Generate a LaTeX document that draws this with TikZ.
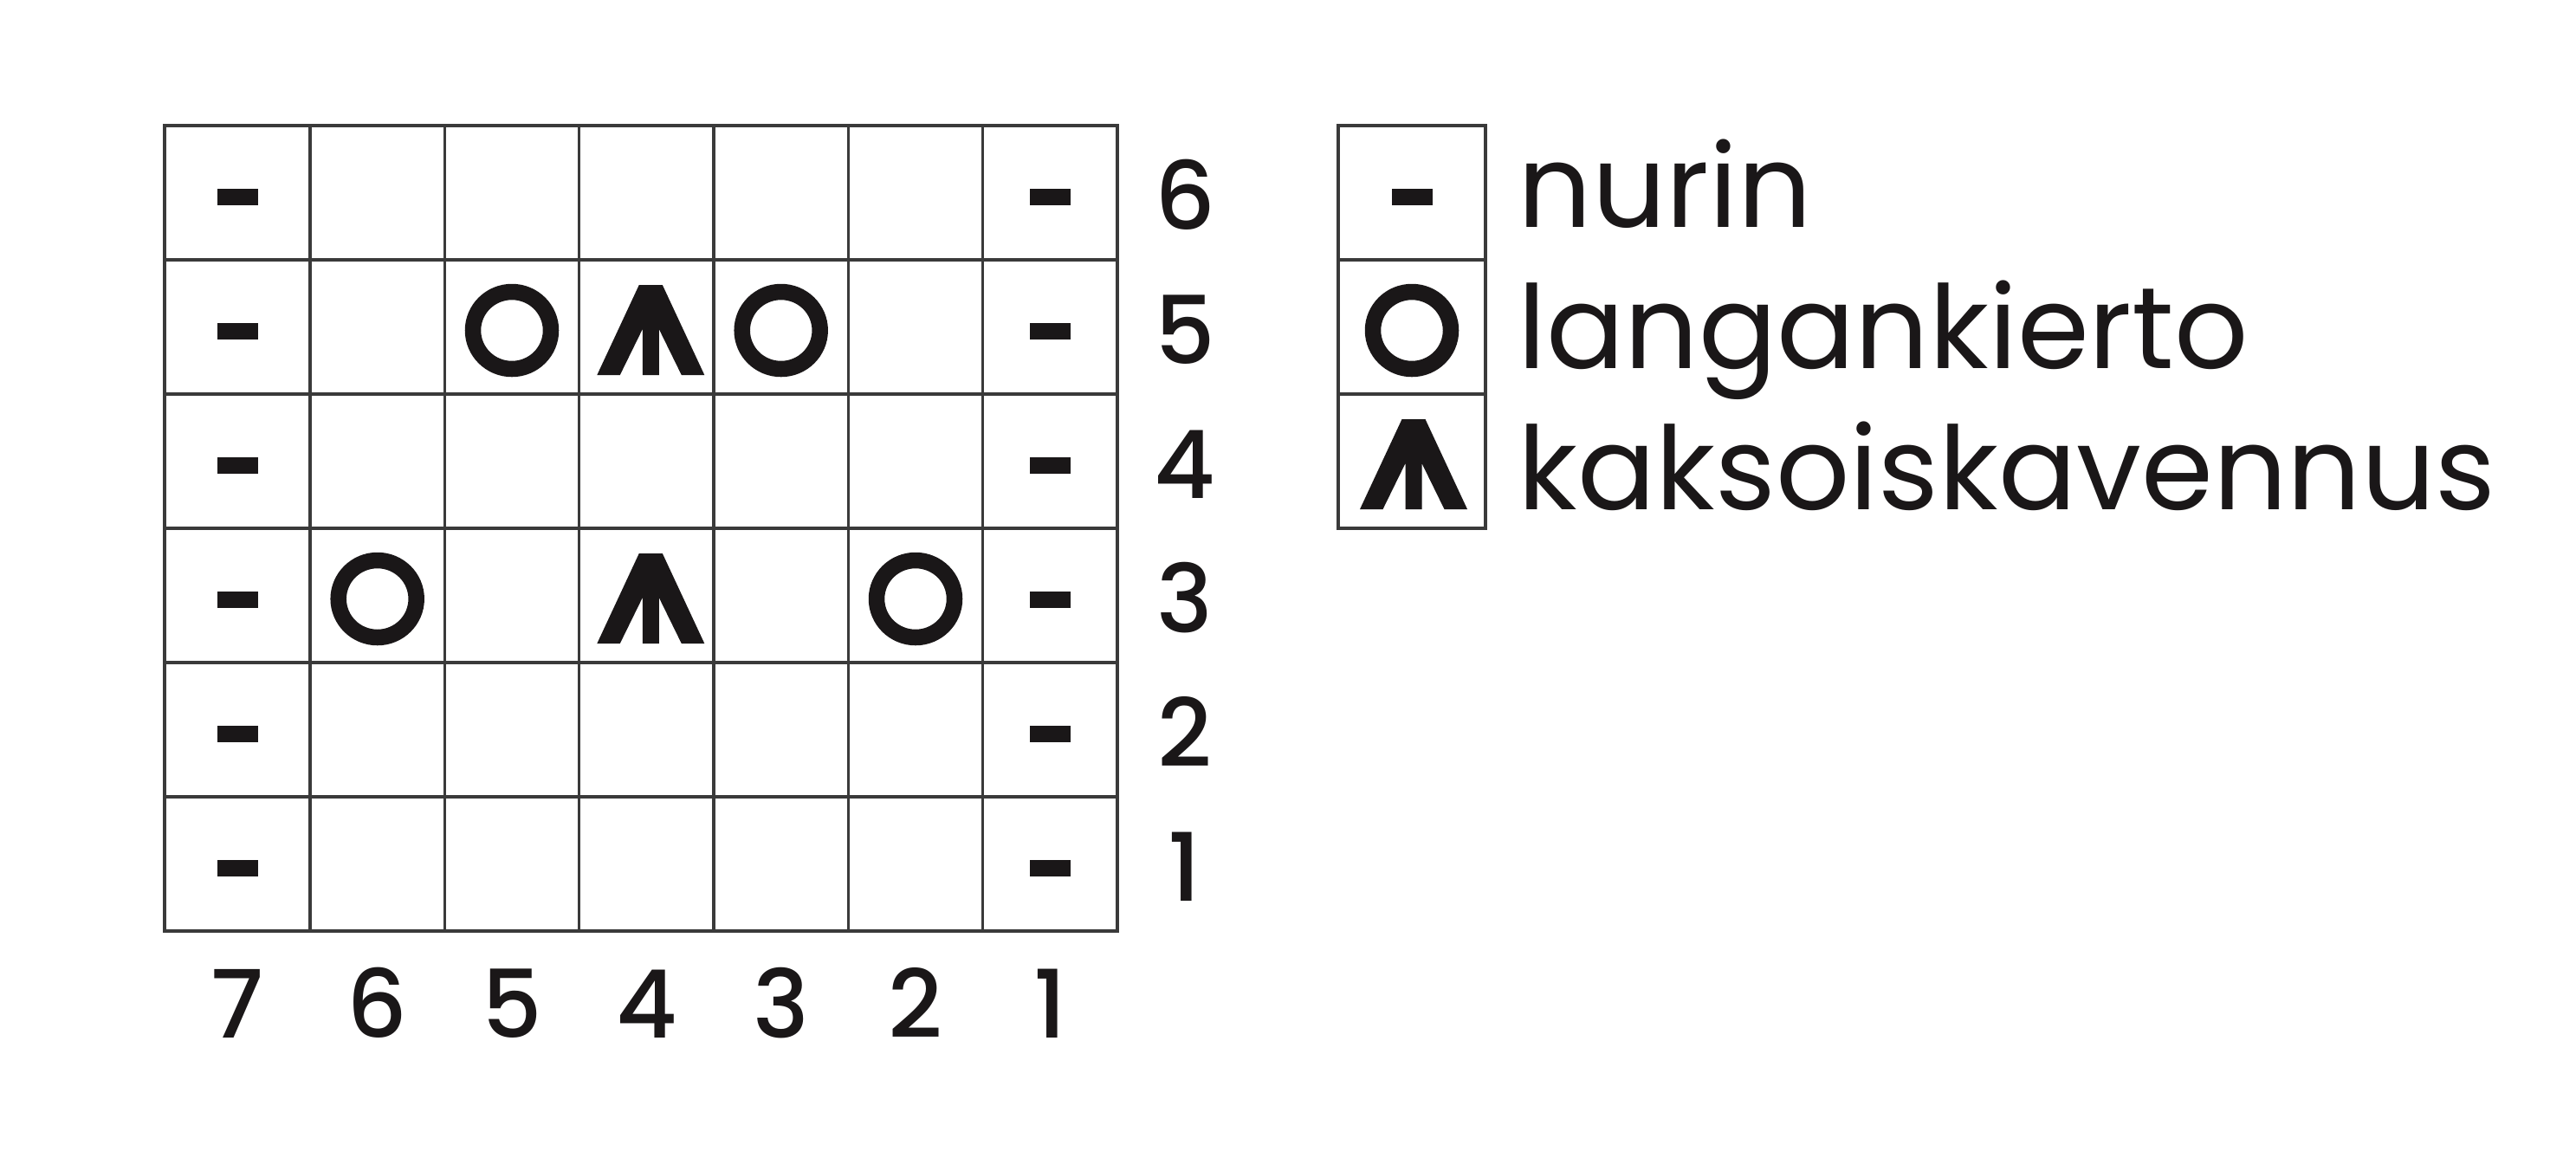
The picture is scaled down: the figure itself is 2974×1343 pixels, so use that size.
\documentclass[tikz,border=0pt]{standalone}
\usepackage{fontspec}
\setmainfont{Poppins}
\newfontfamily\numfont{Poppins Medium}
\definecolor{ink}{HTML}{1A1718}
\definecolor{gridgray}{HTML}{3A3A3A}

\begin{document}
\begin{tikzpicture}[
  x = 0.1mm, y = -0.1mm,
  gridline/.style = {draw=gridgray, line width=0.35mm},
  num/.style = {font=\numfont\fontsize{31}{31}\selectfont, text=ink, inner sep=0, anchor=base},
  legtext/.style = {font=\fontsize{38}{38}\selectfont, text=ink, inner sep=0, anchor=base west},
  keybox/.style = {gridline, minimum width=17mm, minimum height=15.5mm, inner sep=0},
  purl/.pic = {\fill[ink] (-23.5,-4.5) rectangle (23.5,14.5);},
  yo/.pic = {\draw[ink, line width=1.85mm] (0,4) ellipse [x radius=45, y radius=44.5];},
  dbldec/.pic = {\fill[ink] (-57,55.5) -- (-8.5,-48.5) -- (18.5,-48.5) -- (67,55.5)
                   -- (40.5,55.5) -- (14.5,2.5) -- (14.5,55.5) -- (-4.5,55.5)
                   -- (-4.5,2.5) -- (-30.5,55.5) -- cycle;},
  ]
  \useasboundingbox (0,0) rectangle (2974,1343);

  % chart
  \draw[gridline] (190,145) rectangle (1290,1075);
  \draw[gridline] (358,145) -- (358,1075) (513.3,145) -- (513.3,1075)
    (668.7,145) -- (668.7,1075) (824,145) -- (824,1075)
    (979.3,145) -- (979.3,1075) (1134.7,145) -- (1134.7,1075);
  \draw[gridline] (190,300) -- (1290,300) (190,455) -- (1290,455)
    (190,610) -- (1290,610) (190,765) -- (1290,765) (190,920) -- (1290,920);

  \foreach \y in {222.5,377.5,532.5,687.5,842.5,997.5} {
    \pic at (274,\y) {purl};
    \pic at (1212.3,\y) {purl};
  }
  \pic at (591,377.5) {yo};
  \pic at (746.3,377.5) {dbldec};
  \pic at (901.7,377.5) {yo};
  \pic at (435.7,687.5) {yo};
  \pic at (746.3,687.5) {dbldec};
  \pic at (1057,687.5) {yo};

  % row and stitch numbers
  \node[num] (r6) at (1368,265) {6};
  \node[num] (r5) at (1368,420) {5};
  \node[num] (r4) at (1368,575) {4};
  \node[num] (r3) at (1368,730) {3};
  \node[num] (r2) at (1368,885) {2};
  \node[num] (r1) at (1368,1040) {1};
  \node[num] (c7) at (274,1198) {7};
  \node[num] (c6) at (435.7,1198) {6};
  \node[num] (c5) at (591,1198) {5};
  \node[num] (c4) at (746.3,1198) {4};
  \node[num] (c3) at (901.7,1198) {3};
  \node[num] (c2) at (1057,1198) {2};
  \node[num] (c1) at (1212.3,1198) {1};

  % key
  \node[keybox] (kpurl) at (1630,222.5) {};
  \node[keybox] (kyo) at (1630,377.5) {};
  \node[keybox] (kdd) at (1630,532.5) {};
  \pic at (kpurl) {purl};
  \pic at (kyo) {yo};
  \pic at ([xshift=-0.3mm]kdd) {dbldec};
  \node[legtext] (tpurl) at (1752,262) {nurin};
  \node[legtext] (tyo) at (1752,425) {langankierto};
  \node[legtext] (tdd) at (1752,588) {kaksoiskavennus};
\end{tikzpicture}
\end{document}
